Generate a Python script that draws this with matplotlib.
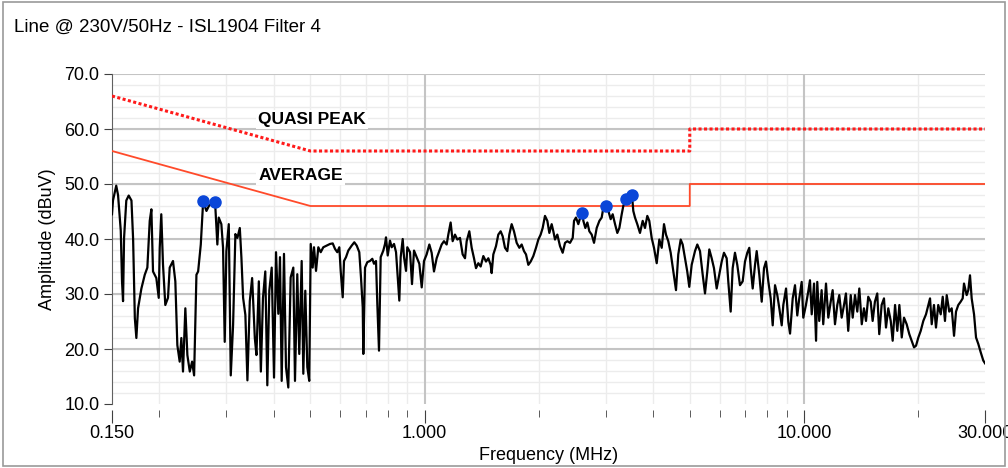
import matplotlib
matplotlib.use("Agg")
import matplotlib.pyplot as plt
from matplotlib.patches import Rectangle

plt.rcParams['font.family'] = ['Liberation Sans Narrow', 'Liberation Sans', 'DejaVu Sans']

# measured trace (frequency in MHz, amplitude in dBuV)
freq = [0.150, 0.1509, 0.1539, 0.1556, 0.1582, 0.1594, 0.1604, 0.1614, 0.1636, 0.1660,
        0.1688, 0.1705, 0.1723, 0.1739, 0.1757, 0.1793, 0.1830, 0.1859, 0.1886, 0.1905,
        0.1924, 0.1963, 0.1992, 0.2004, 0.2023, 0.2044, 0.2073, 0.2107, 0.2129, 0.2172,
        0.2203, 0.2230, 0.2262, 0.2285, 0.2308, 0.2341, 0.2370, 0.2405, 0.2439, 0.2469,
        0.2504, 0.2530, 0.2571, 0.2608, 0.2661, 0.2700, 0.2753, 0.2809, 0.2843, 0.2867,
        0.2913, 0.2943, 0.2973, 0.3003, 0.3047, 0.3084, 0.3128, 0.3172, 0.3211, 0.3258,
        0.3290, 0.3324, 0.3370, 0.3412, 0.3462, 0.3511, 0.3569, 0.3604, 0.3657, 0.3702,
        0.3750, 0.3803, 0.3850, 0.3897, 0.3954, 0.4010, 0.4059, 0.4116, 0.4158, 0.4201,
        0.4260, 0.4312, 0.4373, 0.4436, 0.4508, 0.4554, 0.4618, 0.4674, 0.4743, 0.4790,
        0.4848, 0.4908, 0.4966, 0.5010, 0.5071, 0.5111, 0.5174, 0.5247, 0.5324, 0.5408,
        0.5521, 0.5633, 0.5726, 0.5806, 0.5887, 0.5960, 0.6010, 0.6084, 0.6132, 0.6207,
        0.6294, 0.6425, 0.6527, 0.6624, 0.6728, 0.6798, 0.6870, 0.6895, 0.6966, 0.7064,
        0.7179, 0.7281, 0.7356, 0.7446, 0.7506, 0.7583, 0.7661, 0.7784, 0.7865, 0.7912,
        0.7995, 0.8106, 0.8191, 0.8307, 0.8409, 0.8474, 0.8578, 0.8650, 0.8756, 0.8826,
        0.8934, 0.9004, 0.9155, 0.9265, 0.9378, 0.9533, 0.9686, 0.9827, 0.9965, 1.0126,
        1.0292, 1.0438, 1.0587, 1.0760, 1.0935, 1.1092, 1.1249, 1.1433, 1.1549, 1.1713,
        1.1857, 1.2026, 1.2198, 1.2397, 1.2599, 1.2780, 1.2910, 1.3120, 1.3308, 1.3497,
        1.3662, 1.3856, 1.4055, 1.4284, 1.4516, 1.4723, 1.4932, 1.5025, 1.5177, 1.5424,
        1.5642, 1.5867, 1.6062, 1.6289, 1.6523, 1.6723, 1.6963, 1.7204, 1.7488, 1.7773,
        1.8025, 1.8281, 1.8506, 1.8769, 1.9038, 1.9347, 1.9662, 1.9945, 2.0226, 2.0475,
        2.0765, 2.1064, 2.1323, 2.1625, 2.1845, 2.2067, 2.2380, 2.2749, 2.3119, 2.3452,
        2.3784, 2.4171, 2.4570, 2.4769, 2.5061, 2.5421, 2.5787, 2.6047, 2.6210, 2.6527,
        2.6853, 2.7183, 2.7573, 2.7964, 2.8420, 2.8889, 2.9295, 2.9594, 3.0020, 3.0509,
        3.0939, 3.1318, 3.1769, 3.2211, 3.2611, 3.308, 3.340, 3.395, 3.443, 3.493,
        3.521, 3.549, 3.586, 3.636, 3.696, 3.757, 3.810, 3.864, 3.911, 3.968,
        4.024, 4.091, 4.156, 4.217, 4.276, 4.328, 4.389, 4.453, 4.524, 4.599,
        4.663, 4.732, 4.789, 4.856, 4.924, 4.985, 5.058, 5.161, 5.234, 5.320,
        5.408, 5.484, 5.561, 5.629, 5.711, 5.791, 5.887, 5.981, 6.069, 6.153,
        6.255, 6.316, 6.409, 6.487, 6.578, 6.671, 6.781, 6.893, 6.991, 7.089,
        7.175, 7.237, 7.325, 7.429, 7.505, 7.625, 7.737, 7.846, 7.941, 8.053,
        8.171, 8.271, 8.388, 8.505, 8.610, 8.736, 8.821, 8.968, 9.094, 9.189,
        9.338, 9.470, 9.601, 9.719, 9.861, 9.958, 10.12, 10.26, 10.37, 10.48,
        10.63, 10.76, 10.84, 10.97, 11.13, 11.24, 11.43, 11.59, 11.76, 11.90,
        12.07, 12.24, 12.39, 12.57, 12.75, 12.90, 13.08, 13.28, 13.44, 13.63,
        13.82, 13.99, 14.20, 14.39, 14.57, 14.77, 14.99, 15.17, 15.38, 15.60,
        15.79, 16.02, 16.25, 16.45, 16.68, 16.93, 17.13, 17.38, 17.62, 17.84,
        18.10, 18.35, 18.65, 18.95, 19.22, 19.50, 19.74, 20.02, 20.31, 20.63,
        20.97, 21.27, 21.49, 21.71, 22.01, 22.28, 22.59, 22.93, 23.21, 23.53,
        23.78, 24.15, 24.51, 24.86, 25.16, 25.51, 25.88, 26.20, 26.41, 26.84,
        27.11, 27.39, 27.67, 28.07, 28.41, 28.81, 29.23, 29.69, 30.0]
amp = [44.5, 47.0, 49.7, 48.0, 41.5, 32.3, 28.7, 40.2, 47.0, 47.9,
       47.0, 40.0, 25.6, 22.0, 27.4, 31.0, 33.5, 34.8, 43.3, 45.4,
       34.1, 32.9, 29.3, 38.4, 44.5, 35.4, 28.0, 29.3, 34.8, 36.0,
       32.3, 20.7, 17.7, 22.0, 15.9, 27.4, 18.9, 15.9, 17.7, 15.2,
       33.5, 34.1, 39.0, 46.8, 45.1, 46.0, 46.6, 45.7, 39.0, 43.9,
       42.7, 38.4, 21.3, 37.8, 42.7, 15.2, 24.4, 40.9, 40.2, 42.0,
       36.6, 29.3, 26.2, 14.3, 28.7, 32.9, 22.0, 18.9, 32.3, 15.9,
       29.3, 34.1, 13.4, 30.6, 34.8, 14.8, 37.6, 26.4, 36.7, 14.2,
       37.3, 16.7, 13.0, 33.0, 34.8, 14.2, 33.6, 19.1, 36.0, 15.5,
       30.6, 16.7, 14.2, 39.1, 34.8, 38.5, 34.2, 38.5, 37.6, 38.5,
       38.8, 39.1, 39.2, 38.2, 37.6, 38.5, 34.2, 29.4, 36.0, 36.7,
       37.9, 38.8, 39.4, 38.8, 37.6, 33.0, 27.6, 19.1, 34.8, 35.8,
       36.0, 36.4, 35.5, 36.0, 28.2, 19.7, 36.7, 37.9, 39.1, 40.3,
       37.0, 39.7, 38.5, 39.1, 37.6, 34.2, 28.8, 36.7, 40.0, 36.7,
       34.2, 38.5, 37.6, 31.8, 37.9, 36.7, 35.5, 31.2, 36.0, 37.2,
       39.0, 37.5, 34.1, 36.5, 37.8, 39.0, 39.6, 39.0, 40.8, 43.0,
       39.6, 40.8, 39.9, 40.2, 37.2, 36.5, 39.6, 41.4, 38.4, 36.5,
       34.7, 35.6, 35.0, 36.9, 35.9, 36.5, 35.3, 33.8, 37.2, 38.7,
       40.8, 41.4, 40.5, 38.4, 37.8, 40.8, 42.7, 41.4, 39.3, 38.4,
       39.0, 37.8, 37.2, 35.3, 35.9, 36.9, 38.4, 39.9, 40.8, 42.0,
       44.2, 43.3, 41.1, 42.7, 41.4, 39.9, 40.8, 38.7, 37.5, 39.3,
       39.6, 39.3, 40.2, 43.3, 43.9, 42.7, 44.2, 44.8, 43.3, 42.0,
       43.0, 41.4, 40.8, 39.3, 42.0, 43.3, 43.9, 45.7, 46.0, 45.1,
       43.6, 44.5, 42.7, 41.1, 42.0, 44.5, 46.0, 47.3, 46.9, 47.9,
       48.0, 45.1, 43.9, 42.7, 41.1, 43.3, 42.0, 44.2, 43.3, 40.2,
       38.4, 35.6, 39.9, 38.4, 42.7, 40.8, 39.6, 37.5, 34.1, 30.7,
       37.2, 39.9, 39.0, 36.5, 34.1, 31.3, 35.3, 37.8, 39.0, 37.8,
       33.5, 30.1, 34.1, 38.1, 36.5, 34.7, 31.0, 33.5, 35.9, 37.5,
       36.5, 32.3, 26.8, 34.7, 37.5, 35.3, 31.6, 32.3, 35.9, 37.5,
       38.4, 34.7, 31.0, 35.3, 37.8, 33.5, 28.6, 34.7, 35.9, 32.3,
       29.2, 24.3, 31.6, 29.8, 27.4, 24.3, 28.0, 31.0, 24.9, 22.8,
       29.2, 31.6, 26.1, 29.2, 32.2, 25.7, 28.0, 30.4, 32.5, 26.3,
       31.9, 21.5, 32.2, 25.1, 30.7, 24.5, 31.9, 25.7, 28.6, 30.7,
       24.5, 28.0, 29.8, 25.7, 28.0, 30.1, 23.3, 29.8, 25.7, 29.8,
       26.8, 31.0, 24.5, 27.4, 25.1, 29.5, 28.6, 25.1, 28.6, 30.1,
       22.7, 28.0, 29.2, 23.9, 27.4, 25.1, 21.5, 28.0, 23.3, 28.0,
       22.1, 25.7, 24.5, 22.7, 21.5, 20.3, 20.6, 22.1, 23.3, 25.1,
       26.3, 28.0, 29.2, 24.5, 28.0, 23.9, 28.0, 26.3, 29.5, 25.1,
       29.8, 26.8, 27.4, 22.4, 26.8, 28.0, 28.6, 29.2, 31.9, 29.8,
       30.7, 33.4, 29.2, 26.3, 22.1, 20.9, 19.4, 17.9, 17.4]

# peak markers
peak_freq = [0.2608, 0.2797, 2.6047, 3.0020, 3.395, 3.521]
peak_amp = [47.0, 46.8, 44.8, 46.0, 47.3, 48.0]

# limit lines
limit_freq = [0.15, 0.5, 5.0, 5.0, 30.0]
qp_limit = [66.0, 56.0, 56.0, 60.0, 60.0]
avg_limit = [56.0, 46.0, 46.0, 50.0, 50.0]

x_major = [0.15, 1.0, 10.0, 30.0]
x_labels = ['0.150', '1.000', '10.000', '30.000']
x_minor = [0.2, 0.3, 0.4, 0.5, 0.6, 0.7, 0.8, 0.9,
           2, 3, 4, 5, 6, 7, 8, 9, 20]
y_major = [10, 20, 30, 40, 50, 60, 70]

fig = plt.figure(figsize=(10.08, 4.68), dpi=100)
ax = fig.add_axes([112 / 1008, 1 - 404 / 468, 873 / 1008, 330 / 468])

ax.set_xscale('log')
ax.set_xlim(0.15, 30)
ax.set_ylim(10, 70)

# grid
for f in x_minor:
    ax.axvline(f, color='#ececec', lw=1.0, zorder=0)
for f in [1.0, 10.0]:
    ax.axvline(f, color='#c4c4c4', lw=1.5, zorder=0.5)
for v in range(12, 70, 2):
    ax.axhline(v, color='#ececec', lw=1.0, zorder=0)
for v in y_major[1:]:
    ax.axhline(v, color='#c4c4c4', lw=1.5, zorder=0.5)

ax.plot(limit_freq, qp_limit, color='#ff1a1a', lw=2.2, ls=(0, (1, 0.8)), zorder=3)
ax.plot(limit_freq, avg_limit, color='#ff4a2a', lw=1.3, zorder=3)
ax.plot(freq, amp, color='black', lw=1.6, zorder=4)
ax.plot(peak_freq, peak_amp, 'o', color='#0a46d8', ms=8, zorder=5)

ax.text(0.364, 61.8, 'QUASI PEAK', family=['Liberation Sans', 'DejaVu Sans'],
        fontsize=12.5, fontweight='bold', ha='left', va='center', zorder=2,
        bbox=dict(facecolor='white', edgecolor='none', pad=1.5))
ax.text(0.364, 51.6, 'AVERAGE', family=['Liberation Sans', 'DejaVu Sans'],
        fontsize=12.5, fontweight='bold', ha='left', va='center', zorder=2,
        bbox=dict(facecolor='white', edgecolor='none', pad=1.5))

ax.set_xticks(x_major)
ax.set_xticklabels(x_labels)
ax.set_xticks(x_minor, minor=True)
ax.set_xticklabels([], minor=True)
ax.set_yticks(y_major)
ax.set_yticklabels(['%.1f' % v for v in y_major])

for s in ['top', 'right', 'bottom']:
    ax.spines[s].set_visible(False)
ax.spines['left'].set_color('#606060')
ax.spines['bottom'].set_position(('outward', 4))
ax.tick_params(axis='x', which='major', length=9, color='#404040', labelsize=13, pad=2)
ax.tick_params(axis='x', which='minor', length=5, color='#404040')
ax.tick_params(axis='y', which='major', length=6, color='#404040', labelsize=13, pad=3)

ax.set_xlabel('Frequency (MHz)', fontsize=13, labelpad=4)
ax.set_ylabel('Amplitude (dBuV)', fontsize=13, labelpad=6)

fig.text(14 / 1008, 1 - 27 / 468, 'Line @ 230V/50Hz - ISL1904 Filter 4',
         fontsize=13.5, ha='left', va='center')
fig.patches.append(Rectangle((3 / 1008, 2 / 468), 1002 / 1008, 464 / 468,
                             transform=fig.transFigure, fill=False,
                             edgecolor='#9a9a9a', lw=1.2))

fig.savefig('out.png', dpi=100, facecolor='white')
